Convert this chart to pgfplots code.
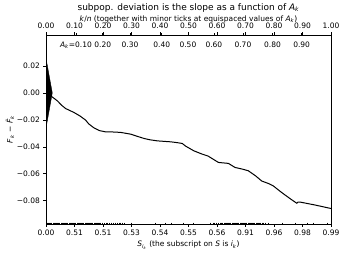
\documentclass[border=0pt]{standalone}
\usepackage{fontspec}
\setmainfont{DejaVu Sans}
\usepackage{pgfplots}
\pgfplotsset{compat=1.18}
\newcommand{\Ak}{\textit{A}\textsubscript{\textit{k}}}
\newcommand{\fs}{\fontsize{7.5}{9}\selectfont}
\begin{document}
\begin{tikzpicture}
\pgfplotsset{
  every axis/.append style={
    scale only axis, width=285pt, height=189pt,
    xmin=0, xmax=1, ymin=-0.0973, ymax=0.043,
    tick align=outside, major tick length=2.6pt, minor tick length=1.6pt,
    every tick/.style={black, line width=0.6pt},
    ticklabel style={font=\fs},
    label style={font=\fs},
    axis line style={line width=0.6pt},
    scaled y ticks=false, scaled x ticks=false,
    /pgf/number format/assume math mode=true,
  }
}
\begin{axis}[
  name=main,
  clip mode=individual,
  xtick={0,0.1,0.2,0.3,0.4,0.5,0.6,0.7,0.8,0.9,1},
  xticklabels={0.00,0.51,0.51,0.53,0.54,0.55,0.56,0.91,0.96,0.98,0.99},
  xtick pos=bottom, ytick pos=left,
  ytick={-0.08,-0.06,-0.04,-0.02,0,0.02},
  yticklabels={−0.08,−0.06,−0.04,−0.02,0.00,0.02},
  xlabel={\textit{S}\textsubscript{\textit{i}\textsubscript{\textit{k}}} (the subscript on \textit{S} is \textit{i}\textsubscript{\textit{k}})},
  ylabel={\textit{F}\textsubscript{\textit{k}} − \textit{\~{F}}\textsubscript{\textit{k}}},
  xlabel style={at={(axis description cs:0.5,-0.111)}, anchor=center},
  ylabel style={at={(axis description cs:-0.1263,0.5)}, anchor=center},
  clip marker paths=true,
]
\coordinate (sw) at (rel axis cs:0,0);
% triangle at origin
\addplot[fill=black, draw=black, line width=0.4pt] coordinates {(0,0.0257) (0.022,0) (0,-0.0261)} -- cycle;
% main curve
\addplot[black, line width=1pt] coordinates {
(0,0) (0.022,-0.0030) (0.040,-0.0059) (0.055,-0.0092) (0.069,-0.0116) (0.098,-0.0145)
(0.120,-0.0172) (0.139,-0.0202) (0.150,-0.0230) (0.168,-0.0259) (0.188,-0.0280) (0.209,-0.0289)
(0.235,-0.0290) (0.262,-0.0293) (0.297,-0.0306) (0.320,-0.0322) (0.344,-0.0338) (0.365,-0.0348)
(0.391,-0.0356) (0.438,-0.0363) (0.460,-0.0369) (0.478,-0.0375) (0.490,-0.0395) (0.519,-0.0430)
(0.545,-0.0452) (0.569,-0.0469) (0.585,-0.0490) (0.605,-0.0516) (0.625,-0.0520) (0.640,-0.0523)
(0.663,-0.0553) (0.690,-0.0566) (0.710,-0.0578) (0.735,-0.0615) (0.757,-0.0654) (0.780,-0.0672)
(0.798,-0.0691) (0.820,-0.0728) (0.839,-0.0758) (0.860,-0.0790) (0.880,-0.0819) (0.884,-0.0810)
(0.891,-0.0810) (0.944,-0.0832) (1.0,-0.0858)
};
% rug
\addplot[only marks, mark=|, mark size=1.3pt, mark options={line width=0.5pt}, black] coordinates {
(0.000,-0.0973) (0.004,-0.0973) (0.008,-0.0973) (0.012,-0.0973) (0.016,-0.0973) (0.020,-0.0973)
(0.024,-0.0973) (0.028,-0.0973) (0.032,-0.0973) (0.036,-0.0973) (0.040,-0.0973) (0.044,-0.0973)
(0.048,-0.0973) (0.052,-0.0973) (0.056,-0.0973) (0.060,-0.0973) (0.064,-0.0973) (0.068,-0.0973)
(0.072,-0.0973) (0.076,-0.0973) (0.080,-0.0973) (0.084,-0.0973) (0.088,-0.0973) (0.092,-0.0973)
(0.096,-0.0973) (0.100,-0.0973) (0.104,-0.0973) (0.108,-0.0973) (0.112,-0.0973) (0.116,-0.0973)
(0.120,-0.0973) (0.124,-0.0973) (0.128,-0.0973) (0.132,-0.0973) (0.136,-0.0973) (0.140,-0.0973)
(0.144,-0.0973) (0.148,-0.0973) (0.152,-0.0973) (0.156,-0.0973) (0.160,-0.0973) (0.164,-0.0973)
(0.168,-0.0973) (0.172,-0.0973) (0.176,-0.0973) (0.180,-0.0973) (0.184,-0.0973) (0.188,-0.0973)
(0.192,-0.0973) (0.198,-0.0973) (0.204,-0.0973) (0.210,-0.0973) (0.216,-0.0973) (0.222,-0.0973)
(0.230,-0.0973) (0.236,-0.0973) (0.242,-0.0973) (0.250,-0.0973) (0.256,-0.0973) (0.262,-0.0973)
(0.268,-0.0973) (0.276,-0.0973)
(0.300,-0.0973) (0.382,-0.0973) (0.418,-0.0973) (0.441,-0.0973) (0.481,-0.0973) (0.516,-0.0973) (0.575,-0.0973)
(0.586,-0.0973) (0.592,-0.0973) (0.598,-0.0973) (0.604,-0.0973) (0.610,-0.0973) (0.616,-0.0973)
(0.620,-0.0973) (0.624,-0.0973) (0.628,-0.0973) (0.632,-0.0973) (0.636,-0.0973) (0.640,-0.0973)
(0.644,-0.0973) (0.648,-0.0973) (0.652,-0.0973) (0.656,-0.0973) (0.660,-0.0973) (0.664,-0.0973)
(0.668,-0.0973) (0.672,-0.0973) (0.676,-0.0973) (0.680,-0.0973) (0.684,-0.0973) (0.688,-0.0973)
(0.692,-0.0973) (0.696,-0.0973) (0.700,-0.0973) (0.704,-0.0973) (0.708,-0.0973) (0.712,-0.0973)
(0.716,-0.0973) (0.720,-0.0973) (0.724,-0.0973) (0.728,-0.0973) (0.732,-0.0973) (0.736,-0.0973)
(0.740,-0.0973) (0.744,-0.0973) (0.748,-0.0973) (0.752,-0.0973) (0.758,-0.0973) (0.764,-0.0973)
(0.770,-0.0973) (0.779,-0.0973)
(0.828,-0.0973) (0.874,-0.0973) (0.916,-0.0973) (0.937,-0.0973) (0.986,-0.0973)
};
% inner A_k labels
\node[font=\fs] at (rel axis cs:0.105,0.947) {\Ak=0.10};
\node[font=\fs] at (rel axis cs:0.199,0.947) {0.20};
\node[font=\fs] at (rel axis cs:0.295,0.947) {0.30};
\node[font=\fs] at (rel axis cs:0.406,0.947) {0.40};
\node[font=\fs] at (rel axis cs:0.498,0.947) {0.50};
\node[font=\fs] at (rel axis cs:0.589,0.947) {0.60};
\node[font=\fs] at (rel axis cs:0.691,0.947) {0.70};
\node[font=\fs] at (rel axis cs:0.795,0.947) {0.80};
\node[font=\fs] at (rel axis cs:0.897,0.947) {0.90};
% top label and title
\node[font=\fs] at (rel axis cs:0.5,1.0847) {\textit{k}/\textit{n} (together with minor ticks at equispaced values of \Ak)};
\node[font=\fontsize{9}{11}\selectfont] at (rel axis cs:0.5,1.143) {subpop. deviation is the slope as a function of \Ak};
\end{axis}
\begin{axis}[
  axis x line*=top, axis y line=none,
  xtick={0,0.1,0.2,0.3,0.4,0.5,0.6,0.7,0.8,0.9,1},
  xticklabels={0.00,0.10,0.20,0.30,0.40,0.50,0.60,0.70,0.80,0.90,1.00},
  minor xtick={0.105,0.199,0.295,0.406,0.498,0.589,0.691,0.795,0.897},
]
\end{axis}
\pgfresetboundingbox
\path (sw) ++(-46pt,-30pt) rectangle ++(345pt,254pt);
\end{tikzpicture}
\end{document}
